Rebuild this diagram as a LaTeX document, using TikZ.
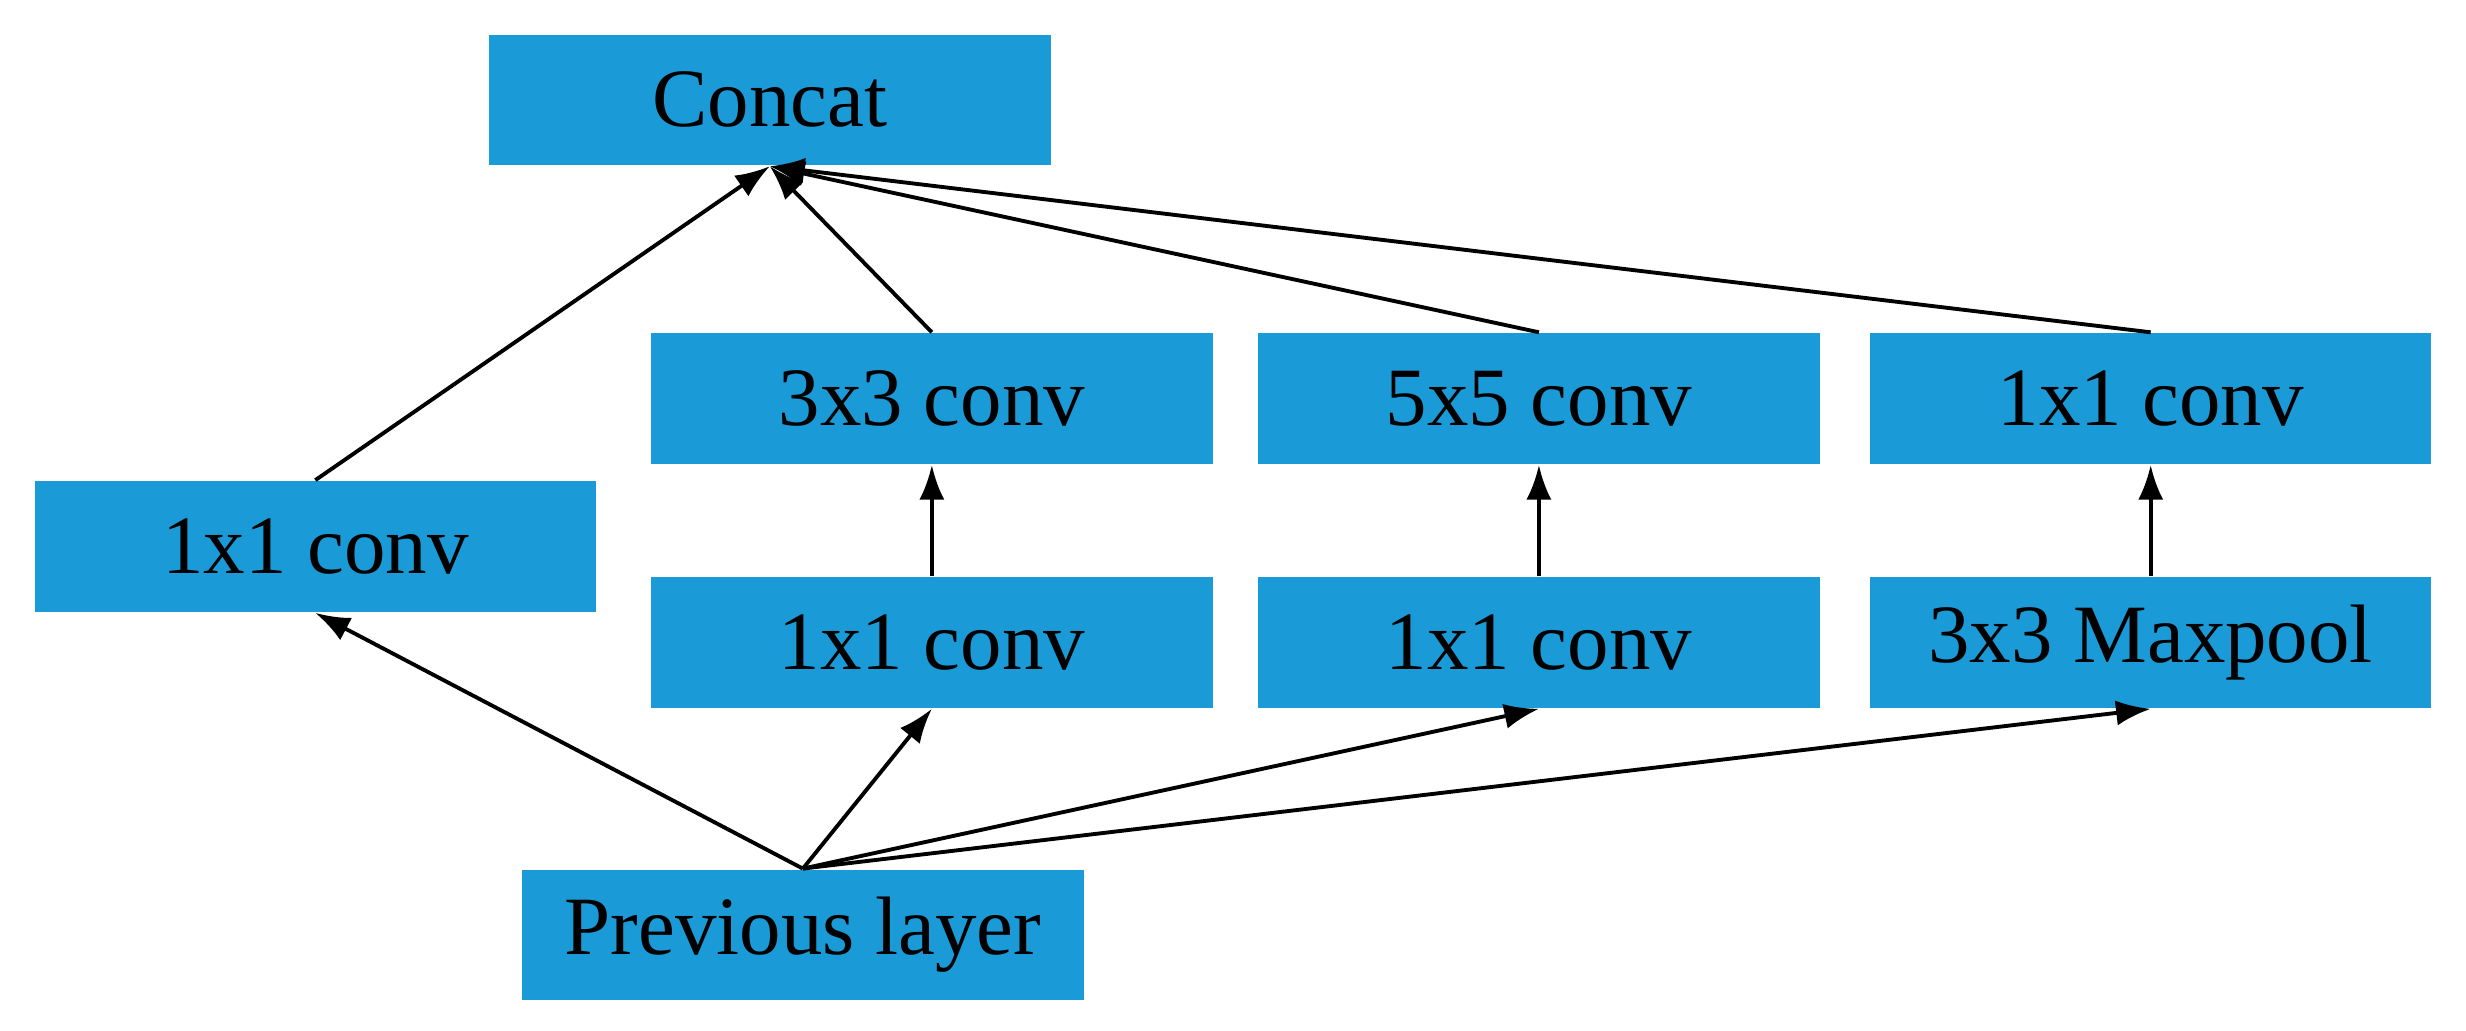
\documentclass[tikz,border=0pt]{standalone}
\usepackage{fontspec}
\setmainfont{Liberation Serif}
\usetikzlibrary{arrows.meta}
\definecolor{boxblue}{HTML}{1A9AD6}

\tikzset{
    block/.style={fill=boxblue, minimum width=3.57cm, minimum height=0.83cm,
        inner sep=0pt, font=\fontsize{15}{18}\selectfont},
    flow/.style={line width=0.7pt, -{Latex[length=2.2mm, width=1.6mm]}},
}

\begin{document}
\begin{tikzpicture}
    \useasboundingbox (0,0) rectangle (15.68,6.55);
    \node[block] (concat) at (4.895,5.915) {Concat};
    \node[block] (conva) at (2.005,3.075) {1x1 conv};
    \node[block] (convb) at (5.925,4.015) {3x3 conv};
    \node[block] (convc) at (9.785,4.015) {5x5 conv};
    \node[block] (convd) at (13.675,4.015) {1x1 conv};
    \node[block] (redb) at (5.925,2.465) {1x1 conv};
    \node[block] (redc) at (9.785,2.465) {1x1 conv};
    \node[block] (pool) at (13.675,2.465) {3x3 Maxpool};
    \node[block] (prev) at (5.105,0.605) {Previous layer};
    % branches from the previous layer
    \foreach \dst in {conva, redb, redc, pool}
        \draw[flow] (prev.north) -- (\dst.south);
    \draw[flow] (redb) -- (convb);
    \draw[flow] (redc) -- (convc);
    \draw[flow] (pool) -- (convd);
    % merge into concat
    \foreach \src in {conva, convb, convc, convd}
        \draw[flow] (\src.north) -- (concat.south);
\end{tikzpicture}
\end{document}
